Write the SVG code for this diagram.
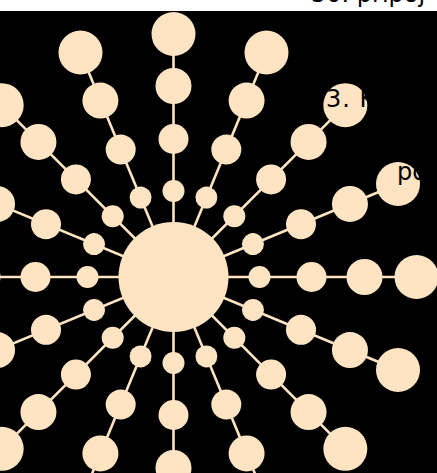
<svg xmlns="http://www.w3.org/2000/svg" width="437" height="473" viewBox="0 0 437 473">
<style>
.bg{fill:#000}
.c{fill:#ffe4c4}
.e{stroke:#ffe4c4;stroke-width:2.6}
.t{font-family:"DejaVu Sans",sans-serif;font-size:24px;fill:#000}
</style>
<rect x="0" y="0" width="437" height="473" fill="#fff"/>
<rect class="bg" x="0" y="11" width="437" height="462"/>
<g id="connectors">
<line class="e" x1="173.5" y1="277" x2="173.5" y2="34" transform="rotate(0 173.5 277)"/>
<line class="e" x1="173.5" y1="277" x2="173.5" y2="34" transform="rotate(22.5 173.5 277)"/>
<line class="e" x1="173.5" y1="277" x2="173.5" y2="34" transform="rotate(45 173.5 277)"/>
<line class="e" x1="173.5" y1="277" x2="173.5" y2="34" transform="rotate(67.5 173.5 277)"/>
<line class="e" x1="173.5" y1="277" x2="173.5" y2="34" transform="rotate(90 173.5 277)"/>
<line class="e" x1="173.5" y1="277" x2="173.5" y2="34" transform="rotate(112.5 173.5 277)"/>
<line class="e" x1="173.5" y1="277" x2="173.5" y2="34" transform="rotate(135 173.5 277)"/>
<line class="e" x1="173.5" y1="277" x2="173.5" y2="34" transform="rotate(157.5 173.5 277)"/>
<line class="e" x1="173.5" y1="277" x2="173.5" y2="34" transform="rotate(180 173.5 277)"/>
<line class="e" x1="173.5" y1="277" x2="173.5" y2="34" transform="rotate(202.5 173.5 277)"/>
<line class="e" x1="173.5" y1="277" x2="173.5" y2="34" transform="rotate(225 173.5 277)"/>
<line class="e" x1="173.5" y1="277" x2="173.5" y2="34" transform="rotate(247.5 173.5 277)"/>
<line class="e" x1="173.5" y1="277" x2="173.5" y2="34" transform="rotate(270 173.5 277)"/>
<line class="e" x1="173.5" y1="277" x2="173.5" y2="34" transform="rotate(292.5 173.5 277)"/>
<line class="e" x1="173.5" y1="277" x2="173.5" y2="34" transform="rotate(315 173.5 277)"/>
<line class="e" x1="173.5" y1="277" x2="173.5" y2="34" transform="rotate(337.5 173.5 277)"/>
</g>
<g id="center"><circle class="c" cx="173.5" cy="277" r="55"/></g>
<g id="s0" transform="rotate(0 173.5 277)"><g id="s0n1"><circle class="c" cx="173.5" cy="191" r="11"/></g><g id="s0n2"><circle class="c" cx="173.5" cy="139" r="15"/></g><g id="s0n3"><circle class="c" cx="173.5" cy="86" r="18"/></g><g id="s0n4"><circle class="c" cx="173.5" cy="34" r="22"/></g></g>
<g id="s1" transform="rotate(22.5 173.5 277)"><g id="s1n1"><circle class="c" cx="173.5" cy="191" r="11"/></g><g id="s1n2"><circle class="c" cx="173.5" cy="139" r="15"/></g><g id="s1n3"><circle class="c" cx="173.5" cy="86" r="18"/></g><g id="s1n4"><circle class="c" cx="173.5" cy="34" r="22"/></g></g>
<g id="s2" transform="rotate(45 173.5 277)"><g id="s2n1"><circle class="c" cx="173.5" cy="191" r="11"/></g><g id="s2n2"><circle class="c" cx="173.5" cy="139" r="15"/></g><g id="s2n3"><circle class="c" cx="173.5" cy="86" r="18"/></g><g id="s2n4"><circle class="c" cx="173.5" cy="34" r="22"/></g></g>
<g id="s3" transform="rotate(67.5 173.5 277)"><g id="s3n1"><circle class="c" cx="173.5" cy="191" r="11"/></g><g id="s3n2"><circle class="c" cx="173.5" cy="139" r="15"/></g><g id="s3n3"><circle class="c" cx="173.5" cy="86" r="18"/></g><g id="s3n4"><circle class="c" cx="173.5" cy="34" r="22"/></g></g>
<g id="s4" transform="rotate(90 173.5 277)"><g id="s4n1"><circle class="c" cx="173.5" cy="191" r="11"/></g><g id="s4n2"><circle class="c" cx="173.5" cy="139" r="15"/></g><g id="s4n3"><circle class="c" cx="173.5" cy="86" r="18"/></g><g id="s4n4"><circle class="c" cx="173.5" cy="34" r="22"/></g></g>
<g id="s5" transform="rotate(112.5 173.5 277)"><g id="s5n1"><circle class="c" cx="173.5" cy="191" r="11"/></g><g id="s5n2"><circle class="c" cx="173.5" cy="139" r="15"/></g><g id="s5n3"><circle class="c" cx="173.5" cy="86" r="18"/></g><g id="s5n4"><circle class="c" cx="173.5" cy="34" r="22"/></g></g>
<g id="s6" transform="rotate(135 173.5 277)"><g id="s6n1"><circle class="c" cx="173.5" cy="191" r="11"/></g><g id="s6n2"><circle class="c" cx="173.5" cy="139" r="15"/></g><g id="s6n3"><circle class="c" cx="173.5" cy="86" r="18"/></g><g id="s6n4"><circle class="c" cx="173.5" cy="34" r="22"/></g></g>
<g id="s7" transform="rotate(157.5 173.5 277)"><g id="s7n1"><circle class="c" cx="173.5" cy="191" r="11"/></g><g id="s7n2"><circle class="c" cx="173.5" cy="139" r="15"/></g><g id="s7n3"><circle class="c" cx="173.5" cy="86" r="18"/></g><g id="s7n4"><circle class="c" cx="173.5" cy="34" r="22"/></g></g>
<g id="s8" transform="rotate(180 173.5 277)"><g id="s8n1"><circle class="c" cx="173.5" cy="191" r="11"/></g><g id="s8n2"><circle class="c" cx="173.5" cy="139" r="15"/></g><g id="s8n3"><circle class="c" cx="173.5" cy="86" r="18"/></g><g id="s8n4"><circle class="c" cx="173.5" cy="34" r="22"/></g></g>
<g id="s9" transform="rotate(202.5 173.5 277)"><g id="s9n1"><circle class="c" cx="173.5" cy="191" r="11"/></g><g id="s9n2"><circle class="c" cx="173.5" cy="139" r="15"/></g><g id="s9n3"><circle class="c" cx="173.5" cy="86" r="18"/></g><g id="s9n4"><circle class="c" cx="173.5" cy="34" r="22"/></g></g>
<g id="s10" transform="rotate(225 173.5 277)"><g id="s10n1"><circle class="c" cx="173.5" cy="191" r="11"/></g><g id="s10n2"><circle class="c" cx="173.5" cy="139" r="15"/></g><g id="s10n3"><circle class="c" cx="173.5" cy="86" r="18"/></g><g id="s10n4"><circle class="c" cx="173.5" cy="34" r="22"/></g></g>
<g id="s11" transform="rotate(247.5 173.5 277)"><g id="s11n1"><circle class="c" cx="173.5" cy="191" r="11"/></g><g id="s11n2"><circle class="c" cx="173.5" cy="139" r="15"/></g><g id="s11n3"><circle class="c" cx="173.5" cy="86" r="18"/></g><g id="s11n4"><circle class="c" cx="173.5" cy="34" r="22"/></g></g>
<g id="s12" transform="rotate(270 173.5 277)"><g id="s12n1"><circle class="c" cx="173.5" cy="191" r="11"/></g><g id="s12n2"><circle class="c" cx="173.5" cy="139" r="15"/></g><g id="s12n3"><circle class="c" cx="173.5" cy="86" r="18"/></g><g id="s12n4"><circle class="c" cx="173.5" cy="34" r="22"/></g></g>
<g id="s13" transform="rotate(292.5 173.5 277)"><g id="s13n1"><circle class="c" cx="173.5" cy="191" r="11"/></g><g id="s13n2"><circle class="c" cx="173.5" cy="139" r="15"/></g><g id="s13n3"><circle class="c" cx="173.5" cy="86" r="18"/></g><g id="s13n4"><circle class="c" cx="173.5" cy="34" r="22"/></g></g>
<g id="s14" transform="rotate(315 173.5 277)"><g id="s14n1"><circle class="c" cx="173.5" cy="191" r="11"/></g><g id="s14n2"><circle class="c" cx="173.5" cy="139" r="15"/></g><g id="s14n3"><circle class="c" cx="173.5" cy="86" r="18"/></g><g id="s14n4"><circle class="c" cx="173.5" cy="34" r="22"/></g></g>
<g id="s15" transform="rotate(337.5 173.5 277)"><g id="s15n1"><circle class="c" cx="173.5" cy="191" r="11"/></g><g id="s15n2"><circle class="c" cx="173.5" cy="139" r="15"/></g><g id="s15n3"><circle class="c" cx="173.5" cy="86" r="18"/></g><g id="s15n4"><circle class="c" cx="173.5" cy="34" r="22"/></g></g>
<g id="labels">
<text class="t" x="311" y="1.5">50. pripoj</text>
<text class="t" x="326" y="107" letter-spacing="1">3. K</text>
<text class="t" x="397" y="180">po</text>
</g>
</svg>
